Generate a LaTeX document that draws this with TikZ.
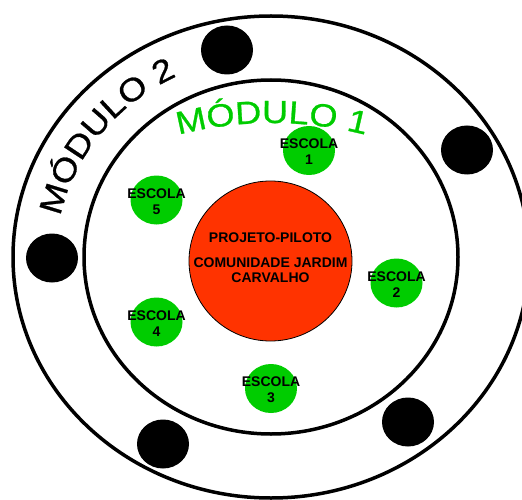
\documentclass[tikz,border=0pt]{standalone}
\usepackage{fontspec}
\setmainfont{Liberation Sans}
\newfontfamily\widefont[FakeStretch=1.13,FakeBold=0.8]{Liberation Sans}
\usetikzlibrary{shapes.geometric,decorations.text}
\definecolor{escgreen}{RGB}{0,204,0}
\definecolor{pilred}{RGB}{255,51,0}
\begin{document}
\begin{tikzpicture}[x=1pt,y=1pt,
  ring/.style={line width=3.5pt},
  blackdot/.style={ellipse, fill=black, minimum width=52pt, minimum height=49pt, inner sep=0pt},
  escola/.style={ellipse, fill=escgreen, minimum width=52pt, minimum height=49pt, inner sep=0pt},
  lbl/.style={font=\fontsize{14}{16}\selectfont\bfseries, align=center, inner sep=0pt},
]
\useasboundingbox (0,0) rectangle (522,499);
% rings
\draw[ring] (271,242) ellipse [x radius=258, y radius=241];
\draw[ring] (271,242) ellipse [x radius=187, y radius=177];
% curved titles
\path[decorate, decoration={text along path, text align=center, text color=escgreen,
  text={|\widefont\fontsize{32}{32}\selectfont|MÓDULO 1}}]
  (272,2) ++(110:374) arc[start angle=110, end angle=70, radius=374];
\path[decorate, decoration={text along path, text align=center,
  text={|\widefont\fontsize{32}{32}\selectfont|MÓDULO 2}}]
  (271,242) ++(197:215 and 201) arc[start angle=197, end angle=89, x radius=215, y radius=201];
% black dots
\node[blackdot] (b1) at (227,449) {};
\node[blackdot] (b2) at (467,349) {};
\node[blackdot] (b3) at (52,241) {};
\node[blackdot] (b4) at (163,55) {};
\node[blackdot] (b5) at (408,77) {};
% centre
\node[ellipse, draw=black, line width=0.8pt, fill=pilred, minimum width=163pt, minimum height=160pt, inner sep=0pt] (pp) at (270.5,238) {};
\node[lbl] (pp1) at (270.5,261) {PROJETO-PILOTO};
\node[lbl, font=\fontsize{14}{15}\selectfont\bfseries] (pp2) at (270.5,228.5) {COMUNIDADE JARDIM\\CARVALHO};
% schools
\node[escola] (e1) at (309,348.5) {};
\node[lbl] (e1t) at (309,347) {ESCOLA\\1};
\node[escola] (e2) at (396.5,216) {};
\node[lbl] (e2t) at (396.5,214.5) {ESCOLA\\2};
\node[escola] (e3) at (271,110.5) {};
\node[lbl] (e3t) at (271,109) {ESCOLA\\3};
\node[escola] (e4) at (156.5,177) {};
\node[lbl] (e4t) at (156.5,175.5) {ESCOLA\\4};
\node[escola] (e5) at (156.5,299) {};
\node[lbl] (e5t) at (156.5,297.5) {ESCOLA\\5};
\end{tikzpicture}
\end{document}
